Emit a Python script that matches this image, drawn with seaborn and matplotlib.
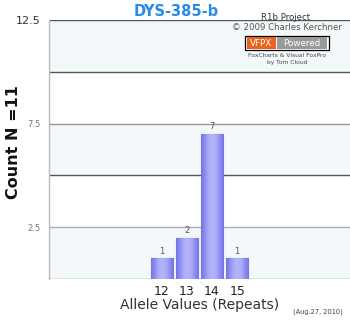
import numpy as np
import pandas as pd
import matplotlib
matplotlib.use("Agg")
import matplotlib.pyplot as plt
from matplotlib.patches import Rectangle
from matplotlib.colors import LinearSegmentedColormap
import seaborn as sns

# ---- data ----
alleles = [12, 13, 14, 15]
counts = [1, 2, 7, 1]
tick_labels = ["12", "13", "14", "15"]
title = "DYS-385-b"
ylabel = "Count N =11"
xlabel = "Allele Values (Repeats)"

sns.set_style("white")
plt.rcParams["font.family"] = ["DejaVu Sans"]

fig = plt.figure(figsize=(3.5, 3.2), dpi=100)
ax = fig.add_axes([49/350, 1-279/320, 301/350, 259/320])

df = pd.DataFrame({"allele": alleles, "count": counts})
sns.barplot(data=df, x="allele", y="count", native_scale=True, ax=ax,
            color="#8c8cf2", width=0.9, edgecolor="#7474ea", linewidth=0.8,
            alpha=0.85, zorder=3)

ax.set_xlim(7.5, 19.5)
ax.set_ylim(0, 12.5)

# alternating bands
for lo, hi in [(0, 2.5), (5, 7.5), (10, 12.5)]:
    ax.axhspan(lo, hi, color="#f3f8fa", zorder=0, lw=0)
# grid lines
for yv, c in [(2.5, "#aaaaaa"), (5, "#555555"), (7.5, "#999999"), (10, "#555555"), (12.5, "#555555"), (0, "#888888")]:
    ax.axhline(yv, color=c, lw=1.0, zorder=1)

# gradient on bars
grad = np.array([[0.0, 0.5, 0.9, 1.0, 0.9, 0.5, 0.0]])
cmap = LinearSegmentedColormap.from_list("bg", ["#7272ea", "#b8b8ff"])
for p in ax.patches:
    if isinstance(p, Rectangle) and p.get_height() > 0:
        x0, y0 = p.get_x(), p.get_y()
        w, h = p.get_width(), p.get_height()
        im = ax.imshow(grad, cmap=cmap, extent=[x0, x0+w, y0, y0+h],
                       aspect="auto", alpha=0.85, zorder=3, interpolation="bicubic")
        im.set_clip_path(p)
ax.set_xlim(7.5, 19.5)
ax.set_ylim(0, 12.5)

# value labels
for a, c in zip(alleles, counts):
    ax.text(a, c + 0.12, str(c), ha="center", va="bottom", fontsize=6, color="#555555", zorder=5)

# axes styling
for s in ["top", "right", "bottom"]:
    ax.spines[s].set_visible(False)
ax.spines["left"].set_color("#bbbbbb")
ax.spines["left"].set_linewidth(1.0)

ax.set_xticks(alleles)
ax.set_xticklabels(tick_labels, fontsize=9, color="#222222")
ax.tick_params(axis="x", length=0, pad=4)
ax.set_yticks([2.5, 5, 7.5, 10, 12.5])
ax.set_yticklabels(["2.5", "", "7.5", "", "12.5"])
ax.tick_params(axis="y", length=4, width=1, color="#555555", pad=2)
for lbl in ax.get_yticklabels():
    if lbl.get_text() == "12.5":
        lbl.set_fontsize(8)
        lbl.set_color("#333333")
    else:
        lbl.set_fontsize(6)
        lbl.set_color("#777777")

ax.set_xlabel(xlabel, fontsize=10, color="#333333", labelpad=0)
ax.set_ylabel("")
fig.text(14/350, 1-142/320, ylabel, rotation=90, ha="center", va="center",
         fontsize=11.5, fontweight="bold", color="#111111")

fig.text(176/350, 1-12/320, title, ha="center", va="center", fontsize=10.5,
         fontweight="bold", color="#2a8ae8")

# credits
fig.text(286/350, 1-17/320, "R1b Project", ha="center", va="center", fontsize=6.2, color="#333333")
fig.text(287/350, 1-28/320, "© 2009 Charles Kerchner", ha="center", va="center", fontsize=6.2, color="#555555")
fig.patches.append(Rectangle((245/350, 1-50/320), 84/350, 14/320, transform=fig.transFigure,
                             facecolor="white", edgecolor="black", lw=0.9, zorder=6))
fig.patches.append(Rectangle((247/350, 1-48.5/320), 29/350, 11/320, transform=fig.transFigure,
                             facecolor="#e8641e", edgecolor="none", zorder=7))
fig.patches.append(Rectangle((277/350, 1-48.5/320), 50/350, 11/320, transform=fig.transFigure,
                             facecolor="#9a9a9a", edgecolor="none", zorder=7))
fig.text(261.5/350, 1-43/320, "VFPX", ha="center", va="center", fontsize=6.3, color="white", zorder=8)
fig.text(302/350, 1-43/320, "Powered", ha="center", va="center", fontsize=6.3, color="white", zorder=8)
fig.text(287/350, 1-55.5/320, "FoxCharts & Visual FoxPro", ha="center", va="center", fontsize=4.3, color="#444444")
fig.text(287/350, 1-62.5/320, "by Tom Cloud", ha="center", va="center", fontsize=4.3, color="#444444")
fig.text(318/350, 1-312/320, "(Aug.27, 2010)", ha="center", va="center", fontsize=4.8, color="#444444")

fig.savefig("out.png", dpi=100)
